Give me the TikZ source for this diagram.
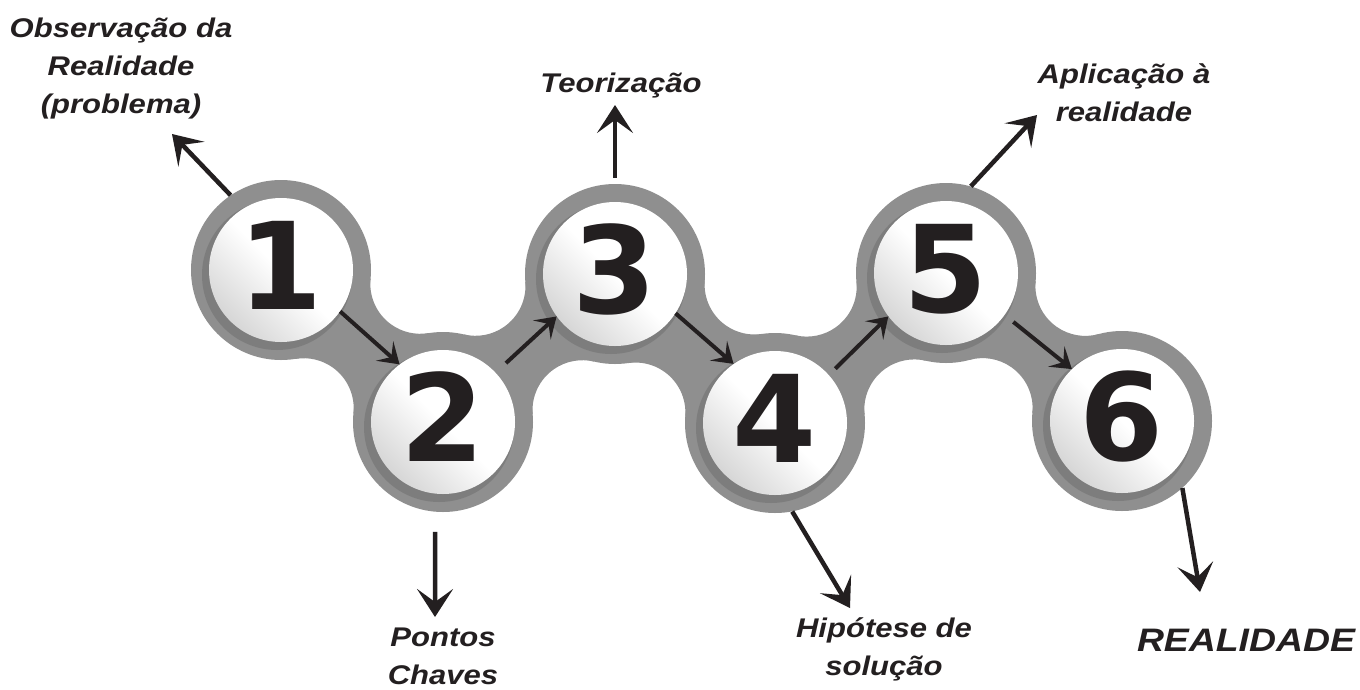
\documentclass[tikz,border=0pt]{standalone}
\usepackage{fontspec}
\setmainfont{Liberation Sans}
\newfontfamily\labfont[FakeStretch=1.15]{Liberation Sans}
\newfontfamily\digfont{DejaVu Sans}
\usetikzlibrary{arrows.meta,calc}
\definecolor{ringgray}{RGB}{143,143,143}
\definecolor{shadegray}{RGB}{100,100,100}
\definecolor{ink}{RGB}{35,31,32}
% #1,#2 circle centres; #3,#4 fillet centres (fillet radius 50pt)
\newcommand\bridgepart[4]{%
  \fill[ringgray] let \p1=#1, \p2=#2, \p3=#3, \p4=#4,
    \n1={atan2(\y1-\y3,\x1-\x3)},
    \n2={\n1+mod(atan2(\y2-\y3,\x2-\x3)-\n1+540,360)-180},
    \n3={atan2(\y2-\y4,\x2-\x4)},
    \n4={\n3+mod(atan2(\y1-\y4,\x1-\x4)-\n3+540,360)-180}
  in ($(\p3)+(\n1:50pt)$) arc[start angle=\n1,end angle=\n2,radius=50pt]
     -- (\p2) -- ($(\p4)+(\n3:50pt)$) arc[start angle=\n3,end angle=\n4,radius=50pt]
     -- (\p1) -- cycle;}
\begin{document}
\begin{tikzpicture}[x=1pt,y=-1pt,
  ring/.style={circle,fill=ringgray,minimum size=180pt,inner sep=0pt},
  ball/.style={circle,minimum size=144pt,inner sep=0pt,top color=white,bottom color=black!16,middle color=white,shading angle=-45,
    font=\digfont\bfseries\fontsize{121}{121}\selectfont,text=ink,text height=88pt,text depth=10pt},
  shadowdisc/.style={fill=shadegray,opacity=0.4},
  lab/.style={font=\labfont\bfseries\itshape\fontsize{27}{38}\selectfont,align=center,text=ink,inner sep=0pt},
  biglab/.style={font=\labfont\bfseries\itshape\fontsize{32.5}{38}\selectfont,text=ink,inner sep=0pt},
  flow/.style={draw=ink,line width=4pt,-{Stealth[length=20pt,width=26pt,inset=9pt]}},
  outarrow/.style={draw=ink,line width=4.5pt,-{Stealth[length=28pt,width=36pt,inset=13pt]}}]
\useasboundingbox (0,0) rectangle (1360,689);
\fill[white] (0,0) rectangle (1360,689);
% centres
\coordinate (c1) at (281,270);
\coordinate (c2) at (443,422);
\coordinate (c3) at (615,274);
\coordinate (c4) at (775,423);
\coordinate (c5) at (946,273);
\coordinate (c6) at (1122,421);
% gray band bridges
\bridgepart{(c1)}{(c2)}{(420.3,283.8)}{(303.7,408.2)}
\bridgepart{(c2)}{(c3)}{(582.5,410.2)}{(475.5,285.8)}
\bridgepart{(c3)}{(c4)}{(754.6,284.5)}{(635.4,412.5)}
\bridgepart{(c4)}{(c5)}{(914.3,409.4)}{(806.7,286.6)}
\bridgepart{(c5)}{(c6)}{(1085.4,285.9)}{(982.6,408.1)}
% rings
\foreach \i in {1,...,6} \node[ring] (r\i) at (c\i) {};
% shadows
\foreach \i in {1,...,6} {
  \fill[shadowdisc] ($(c\i)+(-4,5)$) circle[radius=75pt];
}
% balls
\node[ball] (n1) at (c1) {1};
\node[ball] (n2) at (c2) {2};
\node[ball] (n3) at (c3) {3};
\node[ball] (n4) at (c4) {4};
\node[ball] (n5) at (c5) {5};
\node[ball] (n6) at (c6) {6};
% chain arrows
\draw[flow] (n1.-35) -- (n2.127);
\draw[flow] ([shift={(43.6:14pt)}]n2.43.6) -- (n3.216.7);
\draw[flow] (n3.-33.5) -- (n4.125.2);
\draw[flow] ([shift={(42.5:9pt)}]n4.42.5) -- (n5.217.8);
\draw[flow] ([shift={(-36:11pt)}]n5.-36) -- (n6.134);
% labels
\node[lab] (obs) at (121,69) {Observação da\\Realidade\\(problema)};
\node[lab] (teo) at (621,85.3) {Teorização};
\node[lab] (apl) at (1124,92.5) {Aplicação à\\realidade};
\node[lab] (pon) at (443,656.5) {Pontos\\Chaves};
\node[lab] (hip) at (884,649) {Hipótese de\\solução};
\node[biglab] (rea) at (1246,640.3) {REALIDADE};
% arrow ends
\coordinate (t1) at (172,134);
\coordinate (t3) at (615,105);
\coordinate (t5) at (1037,115);
\coordinate (t2) at (435,617);
\coordinate (t4) at (850,608);
\coordinate (t6) at (1200,592);
\draw[outarrow] (r1.124) -- (t1);
\draw[outarrow] ([yshift=6pt]r3.90) -- (t3);
\draw[outarrow] (r5.74) -- (t5);
\draw[outarrow] ([yshift=-20pt]r2.265) -- (t2);
\draw[outarrow] (r4.-79) -- (t4);
\draw[outarrow] (r6.-48) -- (t6);
\end{tikzpicture}
\end{document}
